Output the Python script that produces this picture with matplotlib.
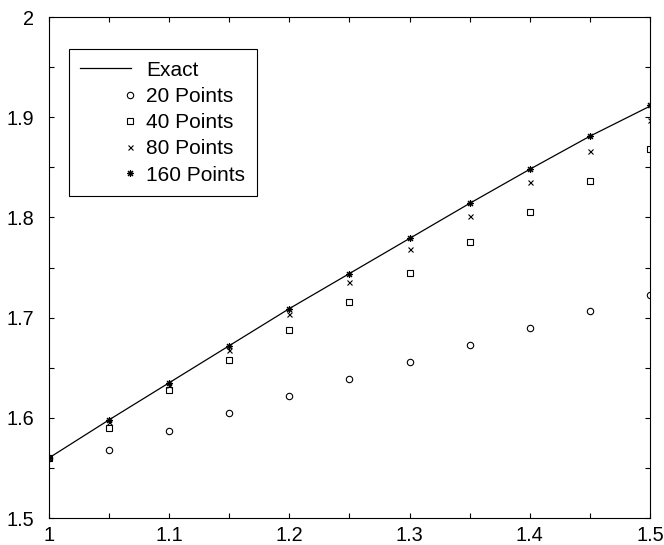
import numpy as np
import matplotlib
matplotlib.use("Agg")
import matplotlib.pyplot as plt
from matplotlib.legend_handler import HandlerLine2D
from matplotlib.ticker import MultipleLocator

x = [1.0, 1.05, 1.1, 1.15, 1.2, 1.25, 1.3, 1.35, 1.4, 1.45, 1.5]
exact = [1.560, 1.598, 1.635, 1.672, 1.709, 1.744, 1.779, 1.814, 1.848, 1.881, 1.911]
pts20 = [1.560, 1.568, 1.5865, 1.6045, 1.622, 1.639, 1.656, 1.673, 1.690, 1.7065, 1.723]
pts40 = [1.560, 1.590, 1.628, 1.658, 1.6875, 1.716, 1.745, 1.775, 1.805, 1.836, 1.8685]
pts80 = [1.560, 1.596, 1.633, 1.668, 1.704, 1.736, 1.7685, 1.8015, 1.8355, 1.866, 1.897]
pts160 = [1.560, 1.598, 1.635, 1.672, 1.709, 1.744, 1.779, 1.814, 1.848, 1.881, 1.912]
xticks = [1, 1.1, 1.2, 1.3, 1.4, 1.5]
yticks = [1.5, 1.6, 1.7, 1.8, 1.9, 2]


class MarkerAtEnd(HandlerLine2D):
    """gnuplot-style key: the point symbol sits at the right end of the sample."""
    def get_xdata(self, legend, xdescent, ydescent, width, height, fontsize):
        xr = np.array([-xdescent + width - 1.0])
        return xr, xr


plt.rcParams["font.family"] = ["Liberation Sans", "DejaVu Sans"]
fig = plt.figure(figsize=(6.64, 5.45), dpi=100)
ax = fig.add_axes([0.0738, 0.0495, 0.905, 0.9193])

ax.plot(x, exact, color="black", lw=0.9, label="Exact")
m20, = ax.plot(x, pts20, ls="none", marker="o", ms=4.6, mfc="none", mec="black", mew=0.8, label="20 Points")
m40, = ax.plot(x, pts40, ls="none", marker="s", ms=4.0, mfc="none", mec="black", mew=0.8, label="40 Points")
m80, = ax.plot(x, pts80, ls="none", marker="x", ms=3.6, color="black", mew=0.8, label="80 Points")
m160, = ax.plot(x, pts160, ls="none", marker=(8, 2, 0), ms=5.0, color="black", mew=0.8, label="160 Points")

ax.set_xlim(1, 1.5)
ax.set_ylim(1.5, 2)
ax.set_xticks(xticks)
ax.set_xticklabels([f"{t:g}" for t in xticks])
ax.set_yticks(yticks)
ax.set_yticklabels([f"{t:g}" for t in yticks])
ax.xaxis.set_minor_locator(MultipleLocator(0.05))
ax.yaxis.set_minor_locator(MultipleLocator(0.05))
ax.tick_params(which="both", direction="in", top=True, right=True, length=3.8, width=0.8, labelsize=14.3)
ax.tick_params(axis="y", pad=10.5)
ax.tick_params(axis="x", pad=6)
for s in ax.spines.values():
    s.set_linewidth(0.8)

handler = MarkerAtEnd(numpoints=2)
leg = ax.legend(loc="upper left", bbox_to_anchor=(0.033, 0.936), fontsize=15,
                handlelength=2.45, handletextpad=0.72, labelspacing=0.35,
                borderpad=0.55, borderaxespad=0, fancybox=False, framealpha=1, edgecolor="black",
                handler_map={m: handler for m in (m20, m40, m80, m160)})
leg.get_frame().set_linewidth(0.8)

fig.savefig("out.png", dpi=100)
